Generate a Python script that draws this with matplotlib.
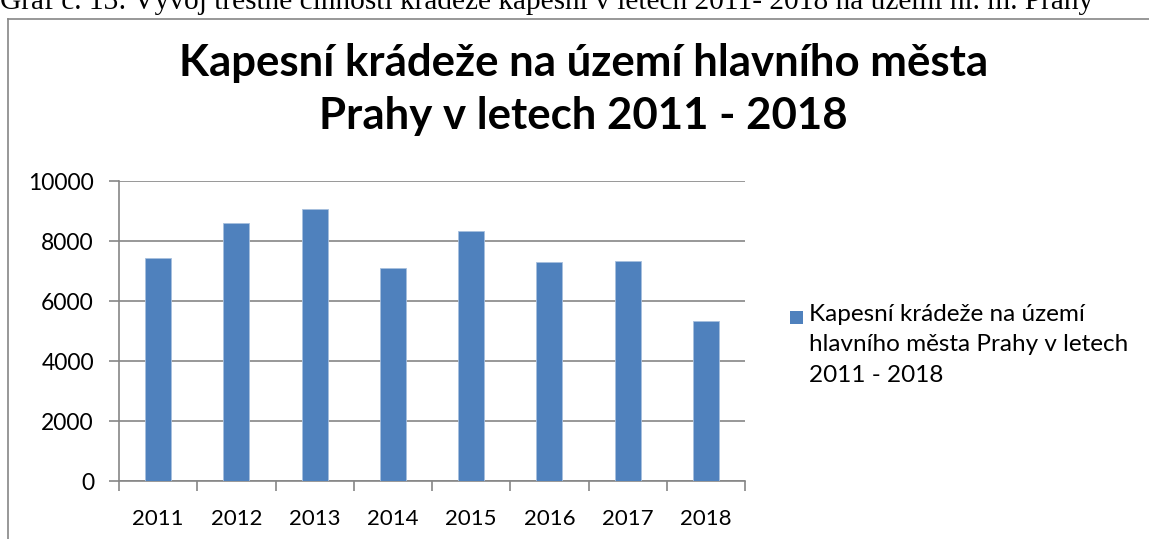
import matplotlib.pyplot as plt
from matplotlib.lines import Line2D
from matplotlib.patches import Rectangle

# data
years = ['2011', '2012', '2013', '2014', '2015', '2016', '2017', '2018']
values = [7420, 8600, 9080, 7090, 8320, 7300, 7330, 5330]
series_name = 'Kapesní krádeže na území\nhlavního města Prahy v letech\n2011 - 2018'
title_lines = ['Kapesní krádeže na území hlavního města', 'Prahy v letech 2011 - 2018']
caption = 'Graf č. 13: Vývoj trestné činnosti krádeže kapesní v letech 2011- 2018 na území hl. m. Prahy'

bar_color = '#4F81BD'
grid_color = '#868686'
W, H = 1149, 539

plt.rcParams['font.family'] = ['Lato', 'DejaVu Sans']

fig = plt.figure(figsize=(W / 100, H / 100), dpi=100)
ax = fig.add_axes([119 / W, 1 - 481 / H, 626 / W, 300 / H])

x = range(len(years))
ax.bar(x, values, width=0.33, color=bar_color, edgecolor='#A7BFDE', linewidth=0.6, zorder=3)

ax.set_xlim(-0.5, len(years) - 0.5)
ax.set_ylim(0, 10000)
ax.set_yticks(range(0, 10001, 2000))
ax.yaxis.grid(True, color=grid_color, linewidth=1.2, zorder=0)
ax.tick_params(axis='y', labelsize=16.5, length=7, color=grid_color, width=1.2, pad=11)

ax.set_xticks([i - 0.5 for i in range(len(years) + 1)])
ax.set_xticklabels([])
ax.set_xticks(list(x), minor=True)
ax.set_xticklabels(years, minor=True)
ax.tick_params(axis='x', which='major', length=7, color=grid_color, width=1.2)
ax.tick_params(axis='x', which='minor', length=0, labelsize=16, pad=20)

for s in ['top', 'right']:
    ax.spines[s].set_visible(False)
for s in ['left', 'bottom']:
    ax.spines[s].set_color(grid_color)
    ax.spines[s].set_linewidth(1.2)

# titulo (dos lineas)
for line, base in zip(title_lines, [76, 129]):
    fig.text(0.508, 1 - base / H, line, ha='center', va='baseline', fontsize=31.5,
             fontweight='bold')

# leyenda
fig.add_artist(Rectangle((790 / W, 1 - 324 / H), 13 / W, 13 / H,
                         transform=fig.transFigure, facecolor=bar_color, edgecolor='none'))
fig.text(809 / W, 1 - 304 / H, series_name, ha='left', va='top', fontsize=17.5,
         linespacing=1.55)

# marco del grafico y texto cortado arriba
fig.add_artist(Line2D([8 / W, 8 / W], [0, 1 - 19 / H], color=grid_color, linewidth=1.2))
fig.add_artist(Line2D([8 / W, 1], [1 - 19 / H, 1 - 19 / H], color=grid_color, linewidth=1.2))
fig.text(0, 1 - 9 / H, caption, ha='left', va='baseline', fontsize=21.2,
         family='Liberation Serif')

plt.savefig('out.png', dpi=100)
plt.close()
